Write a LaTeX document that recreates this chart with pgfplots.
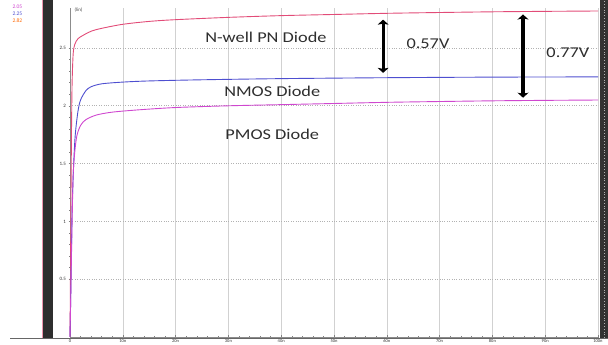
\documentclass[border=0pt]{standalone}
\usepackage{pgfplots}
\pgfplotsset{compat=1.18}
\usepackage{fontspec}
\usepackage{graphicx}
\setmainfont{Carlito}
\usetikzlibrary{arrows.meta}
\definecolor{cNwell}{HTML}{E24C78}
\definecolor{cNMOS}{HTML}{4E4FD0}
\definecolor{cPMOS}{HTML}{CF47CF}
\definecolor{txt}{HTML}{2E2E2E}
\begin{document}
\begin{tikzpicture}
\useasboundingbox (0pt,0pt) rectangle (608pt,345pt);
% dark side bars
\fill[black!82] (42pt,7pt) rectangle (53pt,345pt);
\draw[cNwell!60,line width=0.5pt] (42pt,7pt) -- (42pt,345pt);
\fill[black!80] (600pt,7pt) rectangle (608pt,345pt);
\draw[white!70!black,dotted,line width=0.8pt] (604pt,7pt) -- (604pt,345pt);
% bottom axis line extension
\draw[black!60,line width=0.6pt] (10pt,7pt) -- (608pt,7pt);
% legend values
\node[font=\fontsize{5.5}{6}\selectfont,text=cPMOS,anchor=west] at (9pt,338pt) {2.05};
\node[font=\fontsize{5.5}{6}\selectfont,text=cNMOS,anchor=west] at (9pt,331pt) {2.25};
\node[font=\fontsize{5.5}{6}\selectfont,text=orange!80!red,anchor=west] at (9pt,324pt) {2.82};
\node[font=\fontsize{5}{6}\selectfont,text=black!70,anchor=west] at (71pt,335pt) {(lin)};
\begin{axis}[
  at={(70pt,8pt)}, anchor=south west,
  scale only axis, width=528pt, height=329pt,
  xmin=0, xmax=100, ymin=0, ymax=2.846,
  axis x line=bottom, axis y line=left,
  axis line style={-, draw=black!45, line width=0.5pt},
  xtick={0,10,...,100},
  xticklabels={0,10n,20n,30n,40n,50n,60n,70n,80n,90n,100n},
  ytick={0.5,1,1.5,2,2.5},
  yticklabels={0.5,1,1.5,2,2.5},
  minor x tick num=4, minor y tick num=4,
  tick style={black!50, line width=0.4pt},
  major tick length=3pt, minor tick length=1.5pt,
  tick label style={font=\fontsize{5}{5.5}\selectfont, text=black!80},
  xticklabel style={font=\fontsize{4.5}{5}\selectfont, inner sep=0pt, outer sep=0pt, yshift=-1.2pt},
  yticklabel style={xshift=1pt},
  xmajorgrids, ymajorgrids,
  x grid style={black!18, line width=0.5pt},
  y grid style={black!30, dotted, line width=0.6pt},
  clip=false,
]
\addplot[cNwell, line width=0.9pt, smooth] coordinates {
(0,0)(0.1,0.6)(0.2,1.3)(0.3,1.85)(0.4,2.2)(0.6,2.45)(0.9,2.53)(1.5,2.58)(2.5,2.61)(4,2.645)(6,2.67)(10,2.705)(15,2.73)(20,2.745)(30,2.765)(40,2.78)(50,2.79)(60,2.8)(70,2.807)(80,2.813)(90,2.817)(100,2.82)};
\addplot[cNMOS, line width=0.9pt, smooth] coordinates {
(0,0)(0.2,0.5)(0.4,1.1)(0.7,1.5)(1,1.75)(1.5,1.95)(2,2.05)(3,2.13)(4,2.165)(6,2.19)(10,2.205)(15,2.215)(25,2.225)(40,2.235)(60,2.243)(80,2.248)(100,2.25)};
\addplot[cPMOS, line width=0.9pt, smooth] coordinates {
(0,0)(0.2,0.5)(0.4,1.0)(0.6,1.4)(0.9,1.6)(1.3,1.74)(2,1.83)(3,1.88)(5,1.92)(8,1.945)(13,1.965)(20,1.985)(30,2.0)(40,2.01)(50,2.02)(60,2.03)(70,2.037)(80,2.043)(90,2.047)(100,2.05)};
% annotations
\node[text=txt, font=\fontsize{15}{18}\selectfont] at (axis cs:37.1,2.595) {\scalebox{1.22}[1]{N-well PN Diode}};
\node[text=txt, font=\fontsize{15}{18}\selectfont] at (axis cs:38.3,2.128) {\scalebox{1.22}[1]{NMOS Diode}};
\node[text=txt, font=\fontsize{15}{18}\selectfont] at (axis cs:38.3,1.756) {\scalebox{1.22}[1]{PMOS Diode}};
\node[text=txt, font=\fontsize{15}{18}\selectfont] at (axis cs:67.8,2.535) {\scalebox{1.22}[1]{0.57V}};
\node[text=txt, font=\fontsize{15}{18}\selectfont] at (axis cs:94.3,2.457) {\scalebox{1.22}[1]{0.77V}};
\draw[line width=3.2pt, {Stealth[length=5pt,width=11pt,inset=1pt]}-{Stealth[length=5pt,width=11pt,inset=1pt]}] (axis cs:59.3,2.745) -- (axis cs:59.3,2.285);
\draw[line width=3.2pt, {Stealth[length=5pt,width=11pt,inset=1pt]}-{Stealth[length=5pt,width=11pt,inset=1pt]}] (axis cs:85.8,2.79) -- (axis cs:85.8,2.07);
\end{axis}
\end{tikzpicture}
\end{document}
